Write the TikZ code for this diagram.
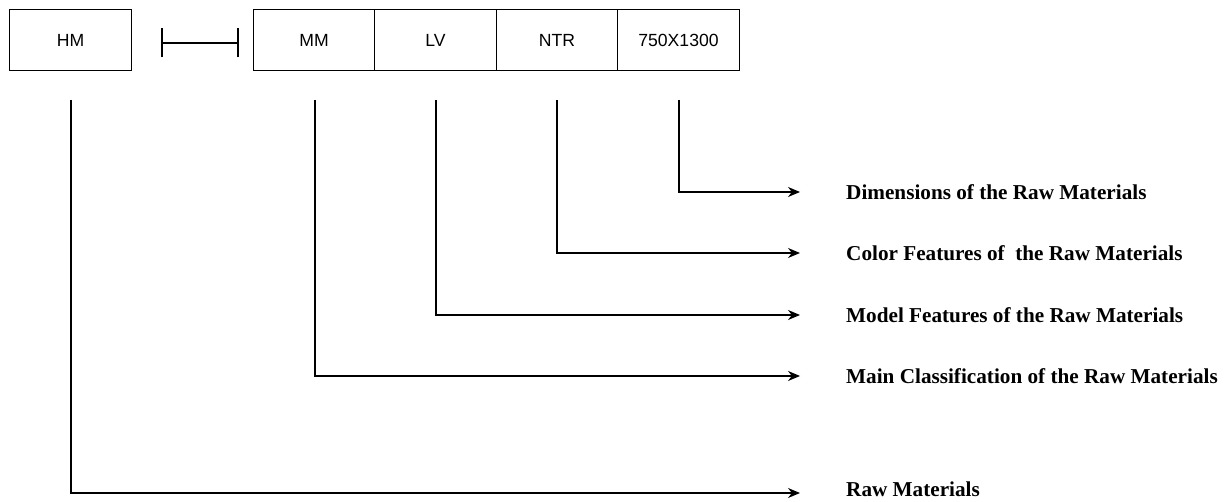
\documentclass[tikz,border=0pt]{standalone}
\usepackage{fontspec}
\setmainfont{Liberation Serif}
\newfontfamily\boxfont{Liberation Sans}
\usetikzlibrary{arrows.meta}
\begin{document}
\begin{tikzpicture}[x=1pt,y=-1pt,
  cell/.style={draw,line width=1pt,minimum width=121.5pt,minimum height=61pt,inner sep=0pt,font=\boxfont\fontsize{17.6}{20}\selectfont},
  conn/.style={line width=1.2pt},
  arr/.style={line width=1.2pt,-{Stealth[length=12pt,width=10pt]}},
  lbl/.style={anchor=west,inner sep=0pt,font=\bfseries\fontsize{21.2}{24}\selectfont}]
\useasboundingbox (0,0) rectangle (1226,502);
\node[cell] (hm) at (70.5,40.5) {HM};
\node[cell] (mm) at (314,40.5) {MM};
\node[cell] (lv) at (435.5,40.5) {LV};
\node[cell] (ntr) at (557,40.5) {NTR};
\node[cell] (dim) at (678.5,40.5) {750X1300};
% bar connector
\coordinate (b1) at (162,43);
\coordinate (b2) at (238,43);
\draw[conn] (b1) -- (b2);
\draw[conn] ([yshift=-14.5]b1) -- ([yshift=14.5]b1);
\draw[conn] ([yshift=-14.5]b2) -- ([yshift=14.5]b2);
% labels
\node[lbl] (l1) at (846,192) {Dimensions of the Raw Materials};
\node[lbl] (l2) at (846,253) {Color Features of\ \ the Raw Materials};
\node[lbl] (l3) at (846,315) {Model Features of the Raw Materials};
\node[lbl] (l4) at (846,376) {Main Classification of the Raw Materials};
\node[lbl] (l5) at (846,489) {Raw Materials};
% connector starts
\coordinate (s1) at (679,100);
\coordinate (s2) at (557,100);
\coordinate (s3) at (436,100);
\coordinate (s4) at (315,100);
\coordinate (s5) at (71,100);
\draw[arr] (s1) |- ([xshift=-46]l1.west);
\draw[arr] (s2) |- ([xshift=-46]l2.west);
\draw[arr] (s3) |- ([xshift=-46]l3.west);
\draw[arr] (s4) |- ([xshift=-46]l4.west);
\draw[arr] (s5) |- ([xshift=-46,yshift=-4]l5.west);
\end{tikzpicture}
\end{document}
